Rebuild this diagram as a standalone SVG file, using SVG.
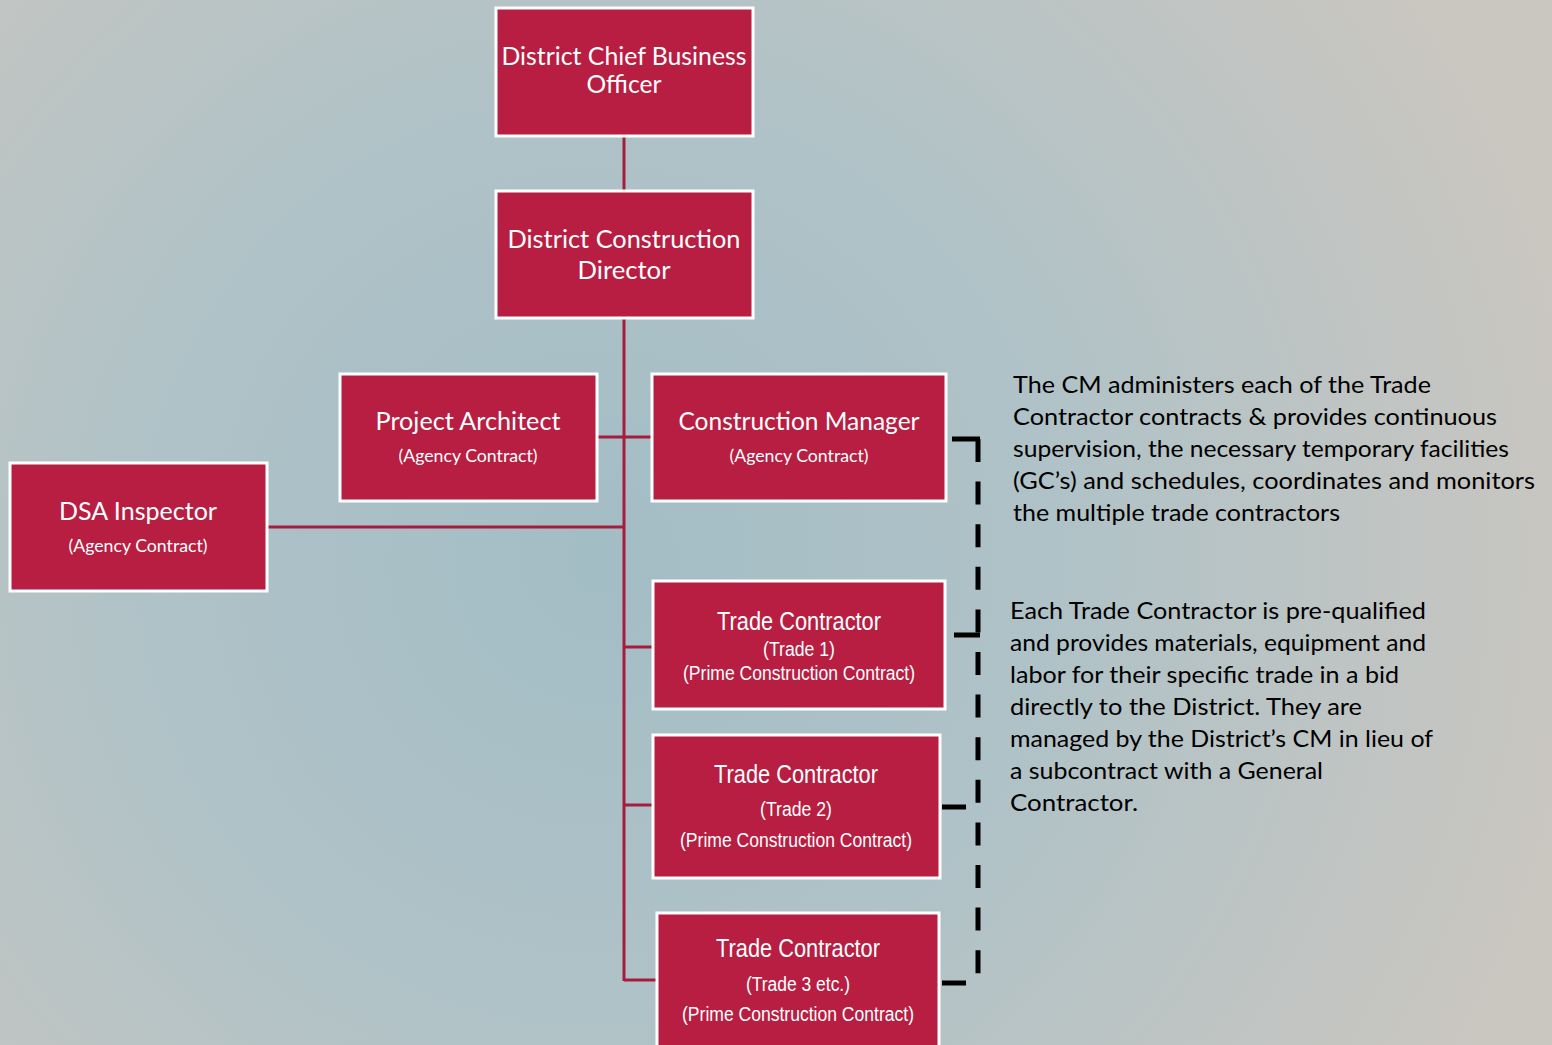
<svg xmlns="http://www.w3.org/2000/svg" width="1552" height="1045" viewBox="0 0 1552 1045">
<defs>
<radialGradient id="bg" cx="600" cy="560" r="1000" gradientUnits="userSpaceOnUse">
<stop offset="0" stop-color="#A3BDC5"/>
<stop offset="0.45" stop-color="#AFC2C7"/>
<stop offset="1" stop-color="#CAC6C0"/>
</radialGradient>
<style>
.box{fill:#B81E41;stroke:#FFFFFF;stroke-width:3}
.t{font-family:Lato,"Open Sans","Liberation Sans",sans-serif;fill:#FFFFFF;text-anchor:middle}
.big{font-size:25px}
.small{font-size:17px}
.n{font-family:"Liberation Sans Narrow","Liberation Sans",Arial,sans-serif;fill:#FFFFFF;text-anchor:middle}
.nb{font-size:25px}
.ns{font-size:20px}
.conn{stroke:#A51C3D;stroke-width:3;fill:none}
.dash{stroke:#000000;stroke-width:5;fill:none}
.p{font-family:Lato,"Open Sans","Liberation Sans",sans-serif;font-size:24px;fill:#000000}
</style>
</defs>
<rect width="1552" height="1045" fill="url(#bg)"/>
<g id="connectors">
<line class="conn" x1="624" y1="136" x2="624" y2="190"/>
<line class="conn" x1="624" y1="318" x2="624" y2="981"/>
<line class="conn" x1="597" y1="437" x2="651" y2="437"/>
<line class="conn" x1="267" y1="527" x2="624" y2="527"/>
<line class="conn" x1="624" y1="647" x2="652" y2="647"/>
<line class="conn" x1="624" y1="805" x2="652" y2="805"/>
<line class="conn" x1="624" y1="980" x2="656" y2="980"/>
<g id="dashed-bracket">
<line class="dash" x1="952" y1="439" x2="980" y2="439"/>
<line class="dash" x1="978" y1="439" x2="978" y2="974" stroke-dasharray="23 19.6"/>
<line class="dash" x1="954" y1="635" x2="980" y2="635"/>
<line class="dash" x1="942" y1="807" x2="966" y2="807"/>
<line class="dash" x1="942" y1="983" x2="966" y2="983"/>
</g>
</g>
<g id="node-cbo">
<rect class="box" x="496" y="8" width="257" height="128"/>
<text class="t big" x="624" y="65" textLength="245" lengthAdjust="spacingAndGlyphs">District Chief Business</text>
<text class="t big" x="624" y="93" textLength="75" lengthAdjust="spacingAndGlyphs">Officer</text>
</g>
<g id="node-dcd">
<rect class="box" x="496" y="191" width="257" height="127"/>
<text class="t big" x="624" y="248" textLength="233" lengthAdjust="spacingAndGlyphs">District Construction</text>
<text class="t big" x="624" y="279" textLength="93" lengthAdjust="spacingAndGlyphs">Director</text>
</g>
<g id="node-pa">
<rect class="box" x="340" y="374" width="257" height="127"/>
<text class="t big" x="468" y="430" textLength="185" lengthAdjust="spacingAndGlyphs">Project Architect</text>
<text class="t small" x="468" y="462" textLength="139" lengthAdjust="spacingAndGlyphs">(Agency Contract)</text>
</g>
<g id="node-cm">
<rect class="box" x="652" y="374" width="294" height="127"/>
<text class="t big" x="799" y="430" textLength="241" lengthAdjust="spacingAndGlyphs">Construction Manager</text>
<text class="t small" x="799" y="462" textLength="139" lengthAdjust="spacingAndGlyphs">(Agency Contract)</text>
</g>
<g id="node-dsa">
<rect class="box" x="10" y="463" width="257" height="128"/>
<text class="t big" x="138" y="520" textLength="158" lengthAdjust="spacingAndGlyphs">DSA Inspector</text>
<text class="t small" x="138" y="552" textLength="139" lengthAdjust="spacingAndGlyphs">(Agency Contract)</text>
</g>
<g id="node-trade1">
<rect class="box" x="653" y="581" width="292" height="128"/>
<text class="n nb" x="799" y="630" textLength="164" lengthAdjust="spacingAndGlyphs">Trade Contractor</text>
<text class="n ns" x="799" y="656" textLength="72" lengthAdjust="spacingAndGlyphs">(Trade 1)</text>
<text class="n ns" x="799" y="680" textLength="232" lengthAdjust="spacingAndGlyphs">(Prime Construction Contract)</text>
</g>
<g id="node-trade2">
<rect class="box" x="653" y="735" width="287" height="143"/>
<text class="n nb" x="796" y="783" textLength="164" lengthAdjust="spacingAndGlyphs">Trade Contractor</text>
<text class="n ns" x="796" y="816" textLength="72" lengthAdjust="spacingAndGlyphs">(Trade 2)</text>
<text class="n ns" x="796" y="847" textLength="232" lengthAdjust="spacingAndGlyphs">(Prime Construction Contract)</text>
</g>
<g id="node-trade3">
<rect class="box" x="657" y="913" width="282" height="140"/>
<text class="n nb" x="798" y="957" textLength="164" lengthAdjust="spacingAndGlyphs">Trade Contractor</text>
<text class="n ns" x="798" y="991" textLength="104" lengthAdjust="spacingAndGlyphs">(Trade 3 etc.)</text>
<text class="n ns" x="798" y="1021" textLength="232" lengthAdjust="spacingAndGlyphs">(Prime Construction Contract)</text>
</g>
<g id="note-cm">
<text class="p" x="1013" y="393" textLength="418" lengthAdjust="spacingAndGlyphs">The CM administers each of the Trade</text>
<text class="p" x="1013" y="425" textLength="484" lengthAdjust="spacingAndGlyphs">Contractor contracts &amp; provides continuous</text>
<text class="p" x="1013" y="457" textLength="496" lengthAdjust="spacingAndGlyphs">supervision, the necessary temporary facilities</text>
<text class="p" x="1013" y="489" textLength="522" lengthAdjust="spacingAndGlyphs">(GC’s) and schedules, coordinates and monitors</text>
<text class="p" x="1013" y="521" textLength="327" lengthAdjust="spacingAndGlyphs">the multiple trade contractors</text>
</g>
<g id="note-trade">
<text class="p" x="1010" y="619" textLength="416" lengthAdjust="spacingAndGlyphs">Each Trade Contractor is pre-qualified</text>
<text class="p" x="1010" y="651" textLength="416" lengthAdjust="spacingAndGlyphs">and provides materials, equipment and</text>
<text class="p" x="1010" y="683" textLength="389" lengthAdjust="spacingAndGlyphs">labor for their specific trade in a bid</text>
<text class="p" x="1010" y="715" textLength="352" lengthAdjust="spacingAndGlyphs">directly to the District. They are</text>
<text class="p" x="1010" y="747" textLength="423" lengthAdjust="spacingAndGlyphs">managed by the District’s CM in lieu of</text>
<text class="p" x="1010" y="779" textLength="313" lengthAdjust="spacingAndGlyphs">a subcontract with a General</text>
<text class="p" x="1010" y="811" textLength="128" lengthAdjust="spacingAndGlyphs">Contractor.</text>
</g>
</svg>
